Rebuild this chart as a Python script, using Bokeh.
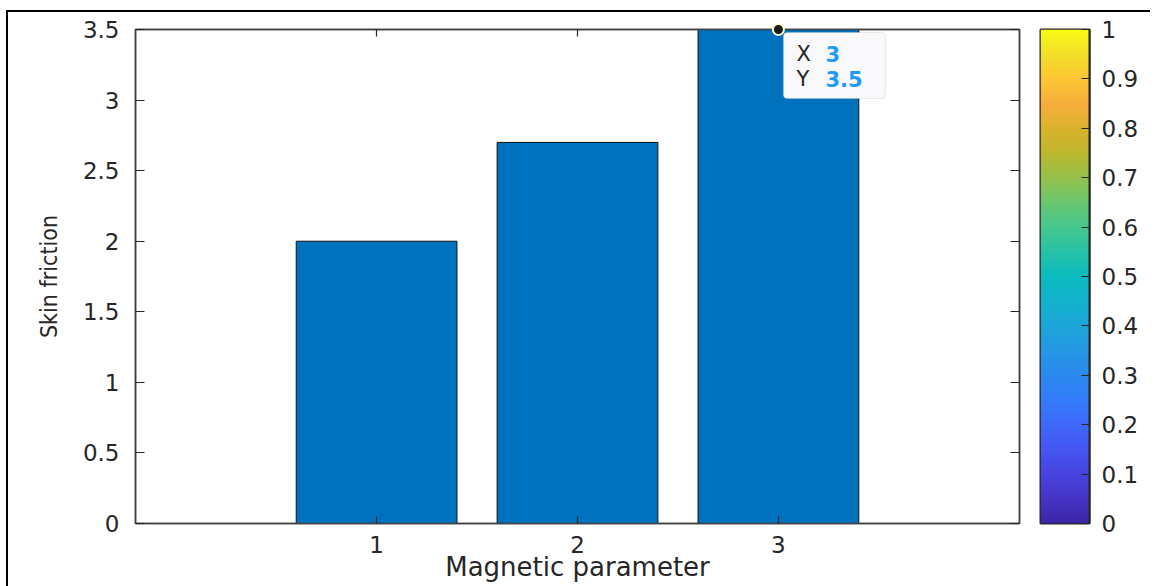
import numpy as np
from bokeh.plotting import figure
from bokeh.layouts import row
from bokeh.models import (FixedTicker, NumeralTickFormatter, LinearAxis, Range1d,
                          LinearColorMapper, BoxAnnotation, CustomJSTickFormatter)
from bokeh.core.properties import value
from bokeh.embed import file_html
from bokeh.resources import INLINE

# ---------------- data ----------------
categories = [1, 2, 3]
skin_friction = [2.0, 2.7, 3.5]
x_ticks = [1, 2, 3]
y_ticks = [0, 0.5, 1, 1.5, 2, 2.5, 3, 3.5]
cbar_ticks = [0, 0.1, 0.2, 0.3, 0.4, 0.5, 0.6, 0.7, 0.8, 0.9, 1.0]
tip_x = 3
tip_y = 3.5
tip_labels = ["X", "Y"]
tip_values = ["3", "3.5"]
x_label = "Magnetic parameter"
y_label = "Skin friction"

# parula-like colormap anchors (value, colour)
parula_pos = [0.0, 0.05, 0.10, 0.15, 0.20, 0.25, 0.30, 0.35, 0.40, 0.45, 0.50,
              0.55, 0.60, 0.65, 0.70, 0.75, 0.80, 0.85, 0.90, 0.95, 1.0]
parula_hex = ["#3E26A8", "#4634C6", "#4743E0", "#4556F2", "#3F68FB", "#347BFB",
              "#2B89EF", "#2597E4", "#1DA6D9", "#12B2CD", "#0ABBBE", "#27C2A8",
              "#45C78E", "#6AC56F", "#95C14C", "#BDB72E", "#D9B22C", "#F7AE3C",
              "#FDC535", "#F3DD2A", "#F9FB15"]

# ---------------- styles ----------------
AX = "#404040"
TXT = "#262626"
FONT = "DejaVu Sans"
NARROW = "'Liberation Sans Narrow', 'DejaVu Sans Condensed', sans-serif"
BAR = "#0072BD"

FRAME_W, FRAME_H = 884, 494
XMIN, XMAX = -0.2, 4.2
YMIN, YMAX = 0, 3.5
FIG_H = 600
TOP, BOTTOM = 17, FIG_H - 17 - FRAME_H

p = figure(width=1022, height=FIG_H,
           x_range=Range1d(XMIN, XMAX), y_range=Range1d(YMIN, YMAX),
           min_border_left=127, min_border_right=11,
           min_border_top=TOP, min_border_bottom=BOTTOM,
           output_backend="svg", toolbar_location=None)
p.background_fill_color = "white"
p.border_fill_color = "white"
p.outline_line_color = AX
p.outline_line_width = 1.5
p.xgrid.visible = False
p.ygrid.visible = False

p.vbar(x=categories, top=skin_friction, width=0.8, bottom=0,
       fill_color=BAR, line_color="#111111", line_width=1)

blank = CustomJSTickFormatter(code="return ''")


def style_axis(ax, ticker, fmt, tick_in):
    ax.ticker = ticker
    ax.formatter = fmt
    ax.major_tick_in = tick_in
    ax.major_tick_out = 0
    ax.minor_tick_line_color = None
    ax.axis_line_color = AX
    ax.axis_line_width = 1.5
    ax.major_tick_line_color = TXT
    ax.major_tick_line_width = 1.2
    ax.major_label_text_font = FONT
    ax.major_label_text_color = TXT
    ax.major_label_text_font_size = "23px"


style_axis(p.xaxis[0], FixedTicker(ticks=x_ticks), NumeralTickFormatter(format="0"), 7)
p.xaxis.major_label_standoff = 12
p.xaxis.axis_label = x_label
p.xaxis.axis_label_text_font = FONT
p.xaxis.axis_label_text_font_size = "26px"
p.xaxis.axis_label_text_font_style = "normal"
p.xaxis.axis_label_text_color = TXT
p.xaxis.axis_label_standoff = -4

style_axis(p.yaxis[0], FixedTicker(ticks=y_ticks), NumeralTickFormatter(format="0.[0]"), 9)
p.yaxis.major_label_standoff = 16
p.yaxis.axis_label = y_label
p.yaxis.axis_label_text_font = NARROW
p.yaxis.axis_label_text_font_size = "23px"
p.yaxis.axis_label_text_font_style = "normal"
p.yaxis.axis_label_text_color = TXT
p.yaxis.axis_label_standoff = 18

top_ax = LinearAxis()
style_axis(top_ax, FixedTicker(ticks=x_ticks), blank, 7)
top_ax.major_label_standoff = 0
p.add_layout(top_ax, "above")
right_ax = LinearAxis()
style_axis(right_ax, FixedTicker(ticks=y_ticks), blank, 9)
right_ax.major_label_standoff = 0
p.add_layout(right_ax, "right")

# ---------------- data tip ----------------
sx = FRAME_W / (XMAX - XMIN)
sy = FRAME_H / (YMAX - YMIN)
tip_box = BoxAnnotation(left=tip_x + 5 / sx, right=tip_x + 107 / sx,
                        top=tip_y - 3 / sy, bottom=tip_y - 69 / sy,
                        fill_color="#F9F9FC", fill_alpha=1.0,
                        line_color="#BDBDBD", line_width=1.2,
                        border_radius=4, level="annotation")
p.add_layout(tip_box)
row_y = [tip_y - 24 / sy, tip_y - 49 / sy]
p.text(x=[tip_x + 18 / sx] * 2, y=row_y, text=tip_labels,
       text_font=value(FONT), text_font_size="21px", text_color=TXT,
       text_baseline="middle", text_align="left", level="overlay")
p.text(x=[tip_x + 47 / sx] * 2, y=row_y, text=tip_values,
       text_font=value(FONT), text_font_style="bold",
       text_font_size="21px", text_color="#1E9BFA",
       text_baseline="middle", text_align="left", level="overlay")
p.scatter(x=[tip_x], y=[tip_y], size=11, fill_color="#1A1A1A",
          line_color="#FFFFC8", line_width=2, level="overlay")

# ---------------- colour bar ----------------
grid_pos = np.linspace(0, 1, 256)
rgb = np.array([[int(h[i:i + 2], 16) for i in (1, 3, 5)] for h in parula_hex], dtype=float)
palette = ["#%02X%02X%02X" % tuple(int(round(np.interp(t, parula_pos, rgb[:, k]))) for k in range(3))
           for t in grid_pos]
mapper = LinearColorMapper(palette=palette, low=0, high=1)

cb = figure(width=120, height=FIG_H, x_range=Range1d(0, 1), y_range=Range1d(0, 1),
            min_border_left=10, min_border_right=61,
            min_border_top=TOP, min_border_bottom=BOTTOM,
            x_axis_location=None, y_axis_location="right",
            output_backend="svg", toolbar_location=None)
cb.xgrid.visible = False
cb.ygrid.visible = False
cb.outline_line_color = TXT
cb.outline_line_width = 2
cb.border_fill_color = "white"
cb.image(image=[grid_pos.reshape(-1, 1)], x=0, y=0, dw=1, dh=1, color_mapper=mapper)
style_axis(cb.yaxis[0], FixedTicker(ticks=cbar_ticks), NumeralTickFormatter(format="0.[0]"), 8)
cb.yaxis.axis_line_color = TXT
cb.yaxis.axis_line_width = 2
cb.yaxis.major_label_standoff = 12

layout = row(p, cb, styles={"border-top": "2px solid #000", "border-left": "2px solid #000",
                            "margin-top": "10px", "margin-left": "6px"})

open("out.html", "w").write(file_html(layout, INLINE))
